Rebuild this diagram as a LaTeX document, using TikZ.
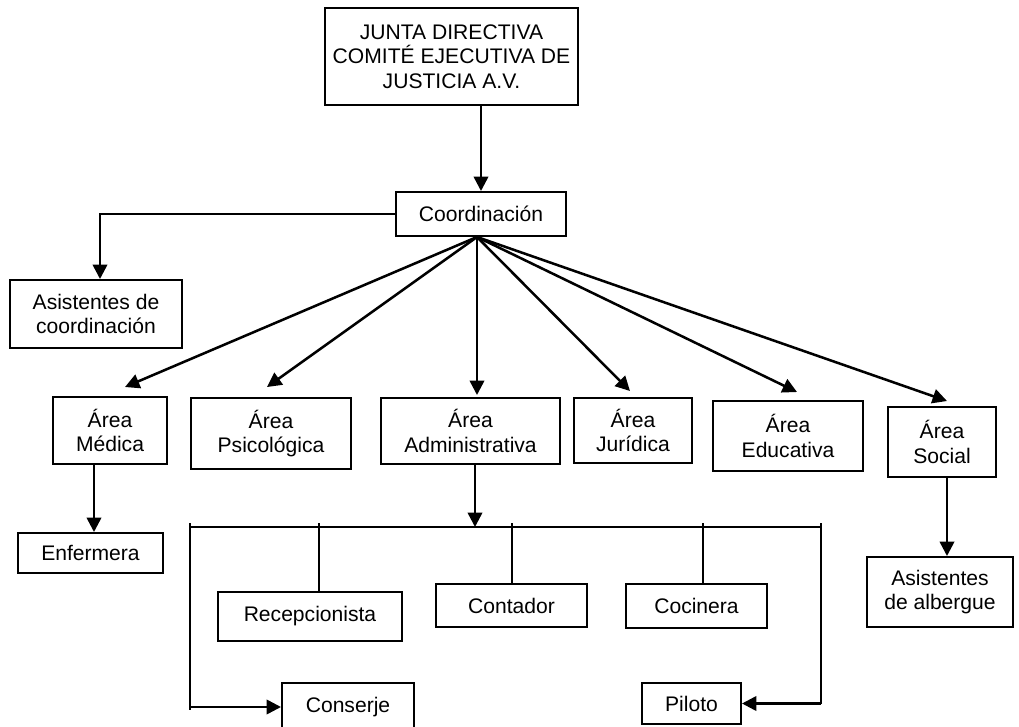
\documentclass[tikz,border=0pt]{standalone}
\usepackage{fontspec}
\setmainfont{Liberation Sans}
\usetikzlibrary{arrows.meta}
\def\u{0.025cm}
\tikzset{
  box/.style 2 args={draw, line width=1.4pt, align=center, inner sep=0pt,
    minimum width=#1*\u, minimum height=#2*\u,
    font=\fontsize{15}{17.5}\selectfont},
  arr/.style={line width=1.8pt, -{Triangle[length=0.36cm, width=0.36cm]}},
  thin/.style={line width=1pt}
}

\begin{document}
\begin{tikzpicture}[x=\u, y=-\u]
\useasboundingbox (0,0) rectangle (1019,727);
\clip (0,0) rectangle (1019,727);
%boxes
\node[box={253}{97}] (junta) at (451.5,56.5) {JUNTA DIRECTIVA\\COMITÉ EJECUTIVA DE\\JUSTICIA A.V.};
\node[box={170}{44}] (coord) at (481,214) {Coordinación};
\node[box={172}{68}] (asist) at (96,314) {Asistentes de\\coordinación};
\node[box={114}{67}] (medica) at (110,430.5) {Área\\Médica};
\node[box={160}{71}] (psico) at (271,433.5) {Área\\Psicológica};
\node[box={179}{66}] (admin) at (470.5,431) {Área\\Administrativa};
\node[box={118}{65}] (juridica) at (633,430.5) {Área\\Jurídica};
\node[box={150}{70}] (educ) at (788,436) {Área\\Educativa};
\node[box={108}{70}] (social) at (942,442) {Área\\Social};
\node[box={146}{70}] (albergue) at (940,592) {Asistentes\\de albergue};
\node[box={145}{40}] (enfermera) at (90.5,553) {Enfermera};
\node[box={184}{49}] (recep) at (310,616.5) {Recepcionista};
\node[box={151}{43}] (contador) at (511.5,605.5) {Contador};
\node[box={141}{44}] (cocinera) at (696.5,606) {Cocinera};
\node[box={132}{48}] (conserje) at (348,707) {Conserje};
\node[box={99}{41}] (piloto) at (691.5,703.5) {Piloto};
%top
\draw[arr] (junta.south -| coord.north) -- (coord.north);
\draw[arr] (coord.west) -| ([xshift=4*\u]asist.north);
%fan
\coordinate (hub) at ([xshift=-4*\u]coord.south);
\draw[arr] (hub) -- ([xshift=15*\u, yshift=9*\u]medica.north);
\draw[arr] (hub) -- ([xshift=-4*\u, yshift=10*\u]psico.north);
\draw[arr] (hub) -- ([yshift=2*\u]hub |- admin.north);
\draw[arr] (hub) -- ([xshift=-3*\u, yshift=6*\u]juridica.north);
\draw[arr] (hub) -- ([xshift=9*\u, yshift=8*\u]educ.north);
\draw[arr] (hub) -- ([xshift=5*\u, yshift=5*\u]social.north);
%down
\draw[arr] ([xshift=-16*\u]medica.south) -- ([xshift=-16*\u]medica.south |- enfermera.north);
\draw[arr] ([xshift=5*\u]social.south) -- ([xshift=5*\u]social.south |- albergue.north);
%bar
\coordinate (barL) at (190,527);
\coordinate (barR) at (821,527);
\draw[arr] ([xshift=4.5*\u]admin.south) -- ([xshift=4.5*\u]admin.south |- barL);
\draw[line width=1.6pt] (barL) -- (barR);
\draw[line width=1.6pt] ([yshift=4*\u]barL) -- ++(0,187);
\draw[line width=1.6pt] ([yshift=4*\u]barR) -- (barR |- piloto.east);
\foreach \n/\dx in {recep/9, contador/0.5, cocinera/6.5}
  \draw[thin] ([xshift=\dx*\u]\n.north |- barL) ++(0,-4) -- ([xshift=\dx*\u]\n.north);
\draw[arr] (barL |- conserje.west) -- (conserje.west);
\draw[arr] (barR |- piloto.east) -- (piloto.east);
\end{tikzpicture}
\end{document}
